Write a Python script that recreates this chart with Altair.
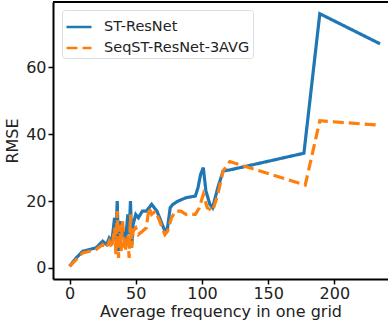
import altair as alt
import pandas as pd

series_names = ["ST-ResNet", "SeqST-ResNet-3AVG"]

st_x = [0, 5, 10, 15, 20, 25, 28, 30, 32, 34, 35, 36, 37, 38, 39, 40, 42, 44, 45, 46, 47, 48,
        50, 52, 55, 58, 62, 66, 68, 70, 72, 74, 76, 78, 82, 88, 95, 97, 99, 101, 103, 106,
        108, 112, 116, 121, 177, 189, 234.5]
st_y = [0.5, 3, 5, 5.5, 6, 8, 7, 9, 8, 15, 8, 20, 5, 14, 9, 12, 7, 16, 10, 20, 7, 13,
        16, 15, 17, 17, 19, 17, 15, 13, 11, 12, 18, 19, 20, 21, 21.5, 24, 28, 30, 23, 19,
        18, 24, 29, 29.3, 34.3, 76, 67]

seq_x = [0, 5, 10, 15, 20, 25, 28, 30, 32, 34, 35, 36, 37, 38, 39, 40, 42, 44, 45, 46, 47, 48,
         50, 52, 55, 58, 60, 62, 65, 67, 70, 72, 74, 77, 80, 84, 88, 92, 95, 98, 101, 104,
         108, 112, 116, 121, 178, 189, 233]
seq_y = [0.5, 2.5, 4.5, 5, 5.5, 7, 6, 8, 6, 12, 4, 17, 3, 13, 5, 14, 5, 10, 3, 16, 6, 11,
         12, 10, 11, 12, 18, 16, 17, 15, 12, 10, 11, 15, 17, 17, 16, 16, 16, 18, 22, 18,
         17, 22, 29, 31.8, 24.8, 44, 42.7]

x_ticks = [0, 50, 100, 150, 200]
y_ticks = [0, 20, 40, 60]

rows = []
for i, (x, y) in enumerate(zip(st_x, st_y)):
    rows.append({"series": series_names[0], "freq": x, "rmse": y, "idx": i})
for i, (x, y) in enumerate(zip(seq_x, seq_y)):
    rows.append({"series": series_names[1], "freq": x, "rmse": y, "idx": i})
df = pd.DataFrame(rows)

font = "DejaVu Sans"
txt = "#222222"

axis_common = dict(grid=False, domainColor="black", domainWidth=2,
                   tickColor="black", tickWidth=1.5, tickSize=5,
                   labelFontSize=16, titleFontSize=16, labelColor=txt, titleColor=txt,
                   labelFont=font, titleFont=font, titleFontWeight="normal")

legend_common = dict(orient="none", legendX=9, legendY=8,
                     symbolType="stroke", symbolSize=625, symbolStrokeWidth=2.5,
                     labelFontSize=14.5, labelFont=font, labelColor=txt,
                     fillColor="white", strokeColor="#dddddd",
                     cornerRadius=3, padding=3, rowPadding=-4, labelOffset=11)

lines = alt.Chart(df).mark_line(strokeWidth=3.2, strokeCap="butt").encode(
    x=alt.X("freq:Q", title="Average frequency in one grid",
            scale=alt.Scale(domain=[-12.5, 240.5], nice=False, zero=False),
            axis=alt.Axis(values=x_ticks, labelPadding=1, titlePadding=2, **axis_common)),
    y=alt.Y("rmse:Q", title="RMSE",
            scale=alt.Scale(domain=[-3.3, 79.5], nice=False, zero=False),
            axis=alt.Axis(values=y_ticks, labelPadding=2, titlePadding=5, **axis_common)),
    color=alt.Color("series:N", title=None,
                    scale=alt.Scale(domain=series_names, range=["#1f77b4", "#ff7f0e"]),
                    legend=alt.Legend(**legend_common)),
    strokeDash=alt.StrokeDash("series:N", title=None,
                              scale=alt.Scale(domain=series_names, range=[[1, 0], [11, 5]]),
                              legend=alt.Legend(**legend_common)),
    order="idx:Q",
)

top_spine = alt.Chart(df).mark_rule(color="black", strokeWidth=2).encode(
    y=alt.value(0)
)

chart = alt.layer(lines, top_spine).properties(
    width=335, height=277,
    padding={"left": 53, "top": 2, "right": 0, "bottom": 45},
    autosize=alt.AutoSizeParams(type="none"),
).configure_view(stroke=None)

chart.save("out.html", embed_options={"renderer": "svg", "actions": False})
